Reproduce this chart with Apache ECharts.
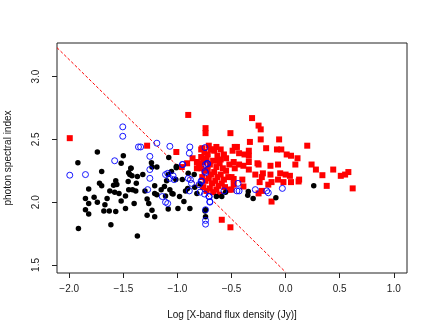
<!DOCTYPE html>
<html>
<head>
<meta charset="utf-8">
<script src="https://cdn.jsdelivr.net/npm/echarts@6/dist/echarts.min.js"></script>
<style>
  html, body { margin: 0; padding: 0; background: #fff; }
  #chart { width: 436px; height: 327px; }
</style>
</head>
<body>
<div id="chart"></div>
<script>
// axis ticks
var xTicks = [-2.0, -1.5, -1.0, -0.5, 0.0, 0.5, 1.0]
var yTicks = [1.5, 2.0, 2.5, 3.0]

// red squares
var redPoints = [
  [-1.995, 2.51], [-1.28, 2.45], [-1.01, 2.40], [-0.90, 2.695], [-0.74, 2.59], [-0.74, 2.55],
  [-0.31, 2.67], [-0.25, 2.61], [-0.23, 2.58], [-0.51, 2.55], [-0.33, 2.48], [-0.23, 2.50],
  [-0.06, 2.50], [0.20, 2.45], [-0.18, 2.43], [-0.08, 2.42], [-0.04, 2.42], [-0.47, 2.44],
  [-0.45, 2.44], [-0.49, 2.41], [-0.43, 2.39], [-0.38, 2.38], [-0.34, 2.41], [-0.34, 2.37],
  [0.01, 2.38], [0.05, 2.37], [0.11, 2.35], [-0.71, 2.45], [-0.64, 2.44], [-0.66, 2.41],
  [-0.60, 2.34], [-0.62, 2.33], [-0.48, 2.32], [-0.52, 2.30], [-0.43, 2.30], [-0.39, 2.29],
  [-0.34, 2.32], [-0.26, 2.31], [-0.25, 2.30], [-0.14, 2.29], [-0.07, 2.30], [0.09, 2.30],
  [0.24, 2.30], [0.28, 2.26], [0.44, 2.26], [0.34, 2.215], [0.51, 2.21], [0.55, 2.22],
  [0.58, 2.24], [0.62, 2.11], [0.38, 2.13], [0.125, 2.18], [0.12, 2.165], [0.05, 2.16],
  [-0.02, 2.16], [-0.07, 2.18], [-0.05, 2.23], [0.0, 2.22], [0.04, 2.21], [-0.14, 2.22],
  [-0.13, 2.16], [-0.21, 2.23], [-0.28, 2.22], [-0.34, 2.26], [-0.40, 2.18], [-0.24, 2.16],
  [-0.16, 2.14], [-0.22, 2.09], [-0.13, 2.005], [-0.59, 1.86], [-0.51, 1.80], [-0.78, 2.42],
  [-0.665, 2.42], [-0.745, 2.35], [-0.91, 2.31], [-0.82, 2.32], [-0.96, 2.28],
  [-0.50, 2.10], [-0.39, 2.125], [-0.48, 2.185], [-0.25, 2.07], [-0.22, 2.20],
  [-0.77, 2.43], [-0.75, 2.40], [-0.72, 2.38], [-0.69, 2.42], [-0.63, 2.37], [-0.60, 2.42],
  [-0.57, 2.38], [-0.55, 2.35], [-0.78, 2.36], [-0.76, 2.32], [-0.73, 2.34], [-0.70, 2.30],
  [-0.67, 2.33], [-0.64, 2.28], [-0.61, 2.31], [-0.58, 2.27], [-0.55, 2.25], [-0.78, 2.27],
  [-0.75, 2.25], [-0.72, 2.26], [-0.69, 2.22], [-0.66, 2.24], [-0.63, 2.20], [-0.60, 2.22],
  [-0.57, 2.18], [-0.53, 2.20], [-0.77, 2.20], [-0.74, 2.17], [-0.71, 2.19], [-0.68, 2.15],
  [-0.65, 2.17], [-0.62, 2.13], [-0.59, 2.15], [-0.56, 2.12], [-0.76, 2.12], [-0.73, 2.09],
  [-0.70, 2.11], [-0.67, 2.08], [-0.64, 2.10], [-0.61, 2.06], [-0.52, 2.10], [-0.48, 2.14],
  [-0.50, 2.20], [-0.47, 2.27], [-0.80, 2.31], [-0.82, 2.27], [-0.86, 2.35]
]

// black filled circles
var blackPoints = [
  [-1.915, 1.79], [-1.92, 2.315], [-1.74, 2.40], [-1.50, 2.37], [-1.52, 2.31], [-1.43, 2.27],
  [-1.24, 2.315], [-1.19, 2.28], [-1.08, 2.355], [-1.01, 2.275], [-1.70, 2.245], [-1.72, 2.15],
  [-1.70, 2.13], [-1.82, 2.105], [-1.85, 2.03], [-1.82, 1.99], [-1.85, 1.94], [-1.82, 1.905],
  [-1.77, 2.04], [-1.74, 2.0], [-1.67, 1.98], [-1.68, 1.93], [-1.63, 1.93], [-1.65, 2.03],
  [-1.625, 2.09], [-1.58, 2.08], [-1.57, 2.17], [-1.56, 2.14], [-1.59, 2.135], [-1.54, 2.07],
  [-1.52, 2.01], [-1.57, 1.925], [-1.48, 2.05], [-1.48, 1.95], [-1.45, 2.10], [-1.415, 2.10],
  [-1.40, 1.99], [-1.385, 2.09], [-1.455, 2.165], [-1.45, 2.235], [-1.44, 2.22], [-1.42, 2.21],
  [-1.43, 2.27], [-1.38, 2.15], [-1.37, 2.205], [-1.32, 2.22], [-1.30, 2.09], [-1.28, 2.025],
  [-1.265, 1.99], [-1.235, 1.935], [-1.28, 1.895], [-1.21, 1.885], [-1.21, 2.13], [-1.21, 2.07],
  [-1.19, 2.06], [-1.235, 2.28], [-1.37, 1.73], [-1.615, 1.82], [-1.15, 2.10], [-1.12, 2.125],
  [-1.10, 2.17], [-1.11, 2.05], [-1.07, 2.10], [-1.085, 1.945], [-1.05, 2.07], [-1.04, 2.065],
  [-1.055, 2.245], [-1.085, 2.22], [-1.01, 2.285], [-0.98, 2.045], [-0.995, 1.95], [-0.94, 2.005],
  [-0.885, 1.95], [-0.905, 2.11], [-0.925, 2.09], [-0.84, 2.12], [-0.82, 2.07], [-1.015, 2.18],
  [-0.955, 2.18], [-0.90, 2.23], [-0.845, 2.22], [-0.79, 2.145], [-0.74, 1.94], [-0.74, 1.885],
  [-0.64, 2.045], [-0.59, 2.045], [-0.555, 2.08], [-0.345, 2.085], [-0.35, 2.055], [-0.30, 2.03],
  [-0.09, 2.035], [0.26, 2.13], [-0.745, 1.93]
]

// blue open circles
var bluePoints = [
  [-1.995, 2.215], [-1.85, 2.22], [-1.505, 2.60], [-1.505, 2.525], [-1.36, 2.44], [-1.34, 2.44],
  [-1.19, 2.47], [-1.255, 2.365], [-1.58, 2.33], [-1.07, 2.445], [-0.885, 2.44], [-0.89, 2.39],
  [-0.95, 2.30], [-0.745, 2.435], [-0.72, 2.305], [-1.255, 2.26], [-1.275, 2.10], [-1.255, 2.19],
  [-1.14, 2.045], [-1.11, 2.0], [-1.09, 1.99], [-1.11, 2.22], [-1.09, 2.23], [-1.07, 2.19],
  [-1.04, 2.21], [-1.03, 2.18], [-0.955, 2.30], [-0.90, 2.19], [-0.88, 2.18], [-0.87, 2.15],
  [-0.89, 2.09], [-0.80, 2.14], [-0.79, 2.08], [-0.775, 2.165], [-0.745, 2.245], [-0.725, 2.31],
  [-0.75, 2.065], [-0.71, 2.045], [-0.70, 2.0], [-0.74, 1.94], [-0.74, 1.855], [-0.74, 1.825],
  [-0.74, 2.235], [-0.78, 2.17], [-0.705, 2.045], [-0.57, 2.09], [-0.44, 2.15], [-0.45, 2.09],
  [-0.43, 2.09], [-0.28, 2.10], [-0.175, 2.09], [-0.16, 2.075], [-0.03, 2.11], [-0.74, 2.30],
  [-0.70, 2.005]
]

// dashed separation line endpoints
var lineX = [-2.113, 0.0]
var lineY = [3.231, 1.443]

var xRange = [-2.113, 1.122]
var yRange = [1.436, 3.268]

var fontFam = 'Liberation Sans, Arial, sans-serif'
function fmt (v) {
  return v.toFixed(1).replace('-', '\u2212')
}

var chart = echarts.init(document.getElementById('chart'), null, {renderer: 'canvas'})
chart.setOption({
  animation: false,
  backgroundColor: '#fff',
  grid: {
    left: 57,
    top: 43,
    right: 29,
    bottom: 54,
    outerBoundsMode: 'none',
    containLabel: false,
    show: true,
    borderColor: '#222',
    borderWidth: 1
  },
  xAxis: {
    type: 'value',
    min: xRange[0],
    max: xRange[1],
    name: 'Log [X-band flux density (Jy)]',
    nameLocation: 'middle',
    nameGap: 37,
    nameTextStyle: {color: '#111', fontSize: 10, fontFamily: fontFam},
    splitLine: {show: false},
    axisLine: {show: false, onZero: false},
    axisTick: {show: true, length: 5, customValues: xTicks, lineStyle: {color: '#222'}},
    axisLabel: {
      customValues: xTicks,
      margin: 11,
      color: '#222',
      fontSize: 10,
      fontFamily: fontFam,
      formatter: fmt
    }
  },
  yAxis: {
    type: 'value',
    min: yRange[0],
    max: yRange[1],
    name: 'photon spectral index',
    nameLocation: 'middle',
    nameGap: 44,
    nameRotate: 90,
    nameTextStyle: {color: '#111', fontSize: 10, fontFamily: fontFam},
    splitLine: {show: false},
    axisLine: {show: false, onZero: false},
    axisTick: {show: true, length: 5, customValues: yTicks, lineStyle: {color: '#222'}},
    axisLabel: {
      customValues: yTicks,
      rotate: 90,
      margin: 16,
      color: '#222',
      fontSize: 10,
      fontFamily: fontFam,
      formatter: fmt
    }
  },
  series: [
    {
      type: 'line',
      data: [[lineX[0], lineY[0]], [lineX[1], lineY[1]]],
      showSymbol: false,
      symbol: 'none',
      lineStyle: {color: '#ff0000', width: 1, type: [3, 2]},
      z: 1
    },
    {
      type: 'scatter',
      data: redPoints,
      symbol: 'rect',
      symbolSize: 6,
      itemStyle: {color: '#ff0000', opacity: 1},
      z: 2
    },
    {
      type: 'scatter',
      data: blackPoints,
      symbol: 'circle',
      symbolSize: 5.5,
      itemStyle: {color: '#000', opacity: 1},
      z: 3
    },
    {
      type: 'scatter',
      data: bluePoints,
      symbol: 'circle',
      symbolSize: 6,
      itemStyle: {color: 'rgba(0,0,0,0)', borderColor: '#0000ff', borderWidth: 0.9, opacity: 1},
      z: 4
    }
  ]
})
</script>
</body>
</html>
